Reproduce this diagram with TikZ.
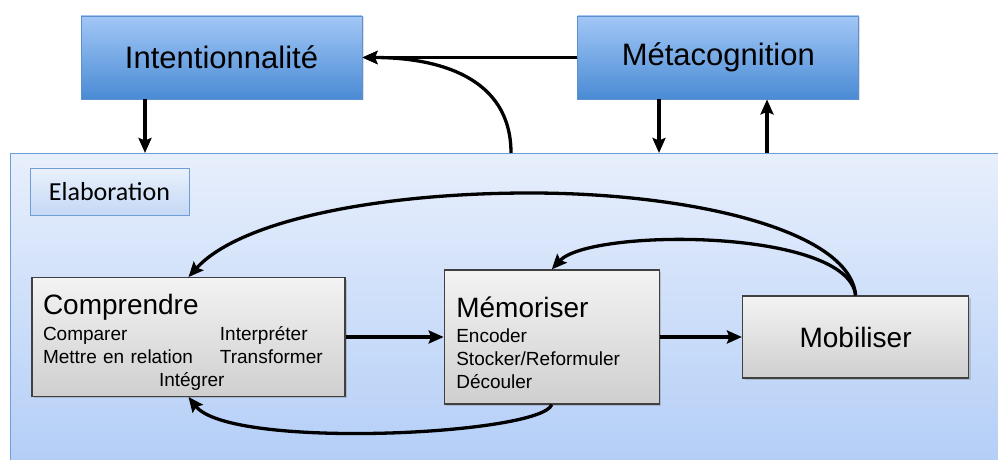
\documentclass[tikz,border=0pt]{standalone}
\usepackage{fontspec}
\setmainfont{Liberation Sans}
\newfontfamily\carlito{Carlito}
\usetikzlibrary{positioning,arrows.meta,shadows}
\definecolor{topA}{HTML}{A2C7F6}
\definecolor{topB}{HTML}{4A8BD4}
\definecolor{topline}{HTML}{5C90CF}
\definecolor{panA}{HTML}{E8EFFC}
\definecolor{panB}{HTML}{B3CEF7}
\definecolor{panline}{HTML}{6E9ED8}
\definecolor{tagA}{HTML}{EAF1FC}
\definecolor{tagB}{HTML}{C4D8F5}
\definecolor{greyA}{HTML}{F3F3F3}
\definecolor{greyB}{HTML}{CFCFCF}
\definecolor{greyline}{HTML}{404040}
\tikzset{
	flow/.style={x=1pt,y=1pt,>={Stealth[length=15pt,width=13pt,inset=2.5pt]}},
	link/.style={->,line width=3.3pt},
	topbox/.style={rectangle,draw=topline,line width=0.8pt,top color=topA,bottom color=topB,
		minimum width=281pt,minimum height=83pt,font=\fontsize{31}{36}\selectfont,
		drop shadow={shadow xshift=1.5pt,shadow yshift=-1.5pt,opacity=0.25}},
	panel/.style={rectangle,draw=panline,line width=0.8pt,top color=panA,bottom color=panB},
	tagbox/.style={rectangle,draw=panline,line width=0.8pt,top color=tagA,bottom color=tagB,
		minimum width=159pt,minimum height=47pt,font=\carlito\fontsize{26}{30}\selectfont,
		drop shadow={shadow xshift=1pt,shadow yshift=-1pt,opacity=0.2}},
	procbox/.style={rectangle,draw=greyline,line width=1.3pt,top color=greyA,bottom color=greyB,
		font=\fontsize{19}{23}\selectfont,align=left,
		drop shadow={shadow xshift=2pt,shadow yshift=-2pt,opacity=0.35}},
	big/.style={font=\fontsize{28}{34}\selectfont}
}
\newcommand{\bigtitle}{\fontsize{28}{34}\selectfont}
\begin{document}
\begin{tikzpicture}[flow]
	\useasboundingbox (0,0) rectangle (998,460);
	
	\node[panel,anchor=north west,minimum width=1000pt,minimum height=312pt] (elab) at (10,307) {};
	\node[tagbox] (tag) at (109.5,268.5) {Elaboration};
	
	\node[topbox] (intent) at (221.5,402.5) {Intentionnalité};
	\node[topbox] (meta) [right=215pt of intent] {Métacognition};
	
	\node[procbox,text width=291pt,inner xsep=11pt,minimum height=115pt] (compr) at (188.5,123) {%
		\begin{tabular}{@{}l@{\hspace{27pt}}l@{}}
			\multicolumn{2}{@{}l}{\bigtitle\rule{0pt}{33pt}Comprendre}\\[3pt]
			Comparer & Interpréter\\
			Mettre en relation & Transformer\\
			\multicolumn{2}{@{\hspace{116pt}}l}{Intégrer}
		\end{tabular}};
	\node[procbox,text width=191pt,inner xsep=12pt,minimum height=134pt] (mem) [right=98pt of compr] {%
		{\bigtitle\rule{0pt}{32pt}Mémoriser}\\[2pt]
		Encoder\\
		Stocker/Reformuler\\
		Découler};
	\node[procbox,big,align=center,minimum width=226pt,minimum height=82pt] (mobil) [right=82pt of mem] {Mobiliser};
	
	\coordinate (ina) at (145,307);
	\coordinate (mda) at (659,307);
	\coordinate (mua) at (767,307);
	\coordinate (back) at (511,307);
	
	\draw[link] (ina |- intent.south) -- (ina);
	\draw[link] (mda |- meta.south) -- (mda);
	\draw[link] (mua) -- (mua |- meta.south);
	\draw[link] (meta.west) -- (intent.east);
	\draw[link] (back) to[out=90,in=0,looseness=1.1] (intent.east);
	
	\draw[link] (compr.east) -- (compr.east -| mem.west);
	\draw[link] (mem.east |- mobil.west) -- (mobil.west);
	\draw[link] (mobil.north) .. controls (848,232) and (590,232) .. (mem.north);
	\draw[link] (mobil.north) .. controls (850,230) and (690,267) .. (530,267)
		.. controls (380,267) and (240,240) .. (compr.north);
	\draw[link] (mem.south) .. controls (540,25) and (230,10) .. (compr.south);
	
\end{tikzpicture}
\end{document}
